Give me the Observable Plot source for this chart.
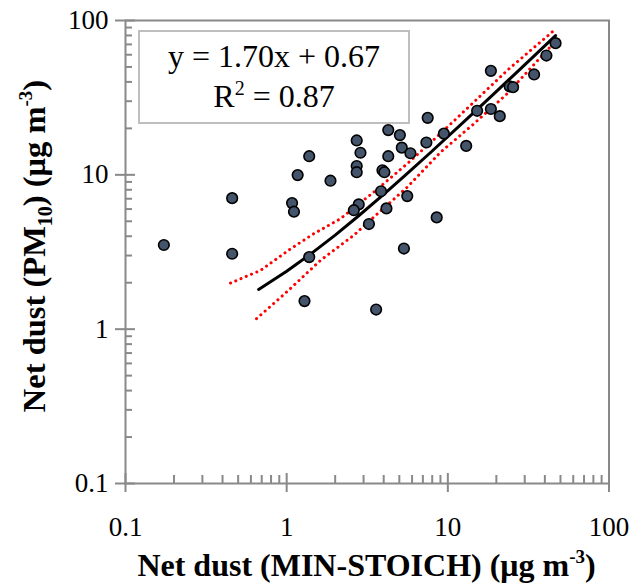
<!DOCTYPE html>
<html>
<head>
<meta charset="utf-8">
<script src="https://cdn.jsdelivr.net/npm/d3@7"></script>
<script src="https://cdn.jsdelivr.net/npm/@observablehq/plot@0.6"></script>
<style>
  html, body { margin: 0; padding: 0; background: #fff; }
  #chart { width: 640px; height: 583px; }
  #chart svg text { font-family: "Liberation Serif", "Times New Roman", serif; }
</style>
</head>
<body>
<div id="chart"></div>
<script>
// Scatter data: Net dust (MIN-STOICH) vs Net dust (PM10), µg m-3
const stoich = [0.173, 0.459, 0.459, 1.38, 1.17, 1.87, 1.08, 1.11, 1.38, 1.29,
  46.6, 40.9, 34.3, 18.5, 24.2, 25.4, 15.2, 18.5, 21.0, 13.0,
  9.45, 7.5, 7.36, 4.27, 5.04, 5.18, 5.86, 4.27, 2.72, 2.87,
  2.72, 2.72, 3.93, 4.04, 3.85, 2.80, 2.61, 4.16, 5.6, 3.24,
  8.53, 5.34, 3.59];
const pm10 = [3.51, 7.06, 3.08, 13.2, 9.96, 9.16, 6.56, 5.77, 2.93, 1.52,
  71.3, 59.3, 44.7, 47.2, 37.4, 37.0, 26.0, 26.7, 24.0, 15.4,
  18.5, 23.4, 16.2, 19.5, 18.1, 15.0, 13.8, 13.2, 16.7, 13.9,
  11.4, 10.4, 10.7, 10.4, 7.83, 6.43, 5.9, 6.06, 7.28, 4.8,
  5.3, 3.33, 1.34];

// Fit line (y = 1.70x + 0.67)
const fitX = [0.67, 1.0, 1.38, 2.0, 2.8, 4.0, 5.5, 8, 13, 19, 25, 35, 46.6];
const fitY = [1.81, 2.37, 3.02, 4.07, 5.43, 7.47, 10.02, 14.27, 22.77, 32.97, 43.17, 60.17, 79.89];

// Confidence band (red dotted)
const upperX = [0.448, 0.687, 1.06, 1.47, 2.16, 3.47, 5.6, 9.0, 14.5, 23.3, 44.8];
const upperY = [1.99, 2.40, 3.32, 4.15, 5.2, 7.73, 11.8, 18.5, 29.6, 47.4, 84.9];
const lowerX = [0.65, 1.0, 1.62, 2.61, 3.47, 5.6, 9.0, 14.5, 23.3, 39.4, 43];
const lowerY = [1.17, 1.74, 2.79, 4.06, 5.32, 8.32, 14.0, 21.4, 33.5, 60.8, 67];

// Ticks
const majorTicks = [0.1, 1, 10, 100];
const majorLabels = ["0.1", "1", "10", "100"];
const minorTicks = [0.2, 0.3, 0.4, 0.5, 0.6, 0.7, 0.8, 0.9, 2, 3, 4, 5, 6, 7, 8, 9, 20, 30, 40, 50, 60, 70, 80, 90];

const xTitle = "Net dust (MIN-STOICH) (μg m";
const yTitleA = "Net dust (PM";
const yTitleSub = "10";
const yTitleB = ") (μg m";
const eqLine1 = "y = 1.70x + 0.67";
const eqLine2 = "R";
const eqLine2b = " = 0.87";

const points = stoich.map((x, i) => ({x, y: pm10[i]}));
const fit = fitX.map((x, i) => ({x, y: fitY[i]}));
const upper = upperX.map((x, i) => ({x, y: upperY[i]}));
const lower = lowerX.map((x, i) => ({x, y: lowerY[i]}));
const fmt = d => majorLabels[majorTicks.indexOf(d)];

const serif = "Liberation Serif";
const gray = "#898989";
const plot = Plot.plot({
  width: 640,
  height: 583,
  marginLeft: 125,
  marginRight: 31.5,
  marginTop: 20,
  marginBottom: 100,
  style: {fontFamily: serif, fontSize: "27px", background: "white", color: "black"},
  x: {type: "log", domain: [0.1, 100]},
  y: {type: "log", domain: [0.1, 100]},
  marks: [
    Plot.frame({stroke: gray, strokeWidth: 2}),
    // tick marks
    Plot.axisX(majorTicks, {tickSize: 9, stroke: gray, strokeWidth: 2, text: null, label: null}),
    Plot.axisX(majorTicks, {tickSize: -10, stroke: gray, strokeWidth: 2, text: null, label: null}),
    Plot.axisX(minorTicks, {tickSize: -8, stroke: gray, strokeWidth: 2, text: null, label: null}),
    Plot.axisY(majorTicks, {tickSize: 10, stroke: gray, strokeWidth: 2, text: null, label: null}),
    Plot.axisY(majorTicks, {tickSize: -10, stroke: gray, strokeWidth: 2, text: null, label: null}),
    Plot.axisY(minorTicks, {tickSize: -7, stroke: gray, strokeWidth: 2, text: null, label: null}),
    // tick labels
    Plot.axisX(majorTicks, {tickSize: 0, tickPadding: 33, tickFormat: fmt, fontSize: 27, fontFamily: serif, fill: "black", label: null}),
    Plot.axisY(majorTicks, {tickSize: 0, tickPadding: 17, tickFormat: fmt, fontSize: 27, fontFamily: serif, fill: "black", label: null}),
    // band & fit
    Plot.line(upper, {x: "x", y: "y", stroke: "#ff0000", strokeWidth: 3, strokeDasharray: "0.1 5.6", strokeLinecap: "round"}),
    Plot.line(lower, {x: "x", y: "y", stroke: "#ff0000", strokeWidth: 3, strokeDasharray: "0.1 5.6", strokeLinecap: "round"}),
    Plot.line(fit, {x: "x", y: "y", stroke: "black", strokeWidth: 3}),
    Plot.dot(points, {x: "x", y: "y", r: 5.3, fill: "#44546a", stroke: "black", strokeWidth: 1.6})
  ]
});
document.getElementById("chart").appendChild(plot);

const svg = d3.select(plot);

// Equation box
const g = svg.append("g").attr("font-family", serif).attr("fill", "black");
g.append("rect").attr("x", 139).attr("y", 31).attr("width", 270).attr("height", 92)
  .attr("fill", "white").attr("stroke", "#bfbfbf").attr("stroke-width", 2);
g.append("text").attr("x", 274).attr("y", 66.5).attr("text-anchor", "middle").attr("font-size", 32).text(eqLine1);
const t2 = g.append("text").attr("x", 274).attr("y", 106.5).attr("text-anchor", "middle").attr("font-size", 32);
t2.append("tspan").text(eqLine2);
t2.append("tspan").attr("font-size", 20).attr("dy", -12).text("2");
t2.append("tspan").attr("dy", 12).text(eqLine2b);

// X title
const xt = svg.append("text").attr("x", 366.5).attr("y", 576).attr("text-anchor", "middle")
  .attr("font-family", serif).attr("font-weight", "bold").attr("font-size", 32).attr("fill", "black");
xt.append("tspan").text(xTitle);
xt.append("tspan").attr("font-size", 19).attr("dy", -13).text("-3");
xt.append("tspan").attr("dy", 13).text(")");

// Y title
const yt = svg.append("text").attr("transform", "translate(45,246) rotate(-90)").attr("text-anchor", "middle")
  .attr("font-family", serif).attr("font-weight", "bold").attr("font-size", 32.5).attr("fill", "black");
yt.append("tspan").text(yTitleA);
yt.append("tspan").attr("font-size", 20).attr("dy", 7).text(yTitleSub);
yt.append("tspan").attr("dy", -7).text(yTitleB);
yt.append("tspan").attr("font-size", 19).attr("dy", -13).text("-3");
yt.append("tspan").attr("dy", 13).text(")");
</script>
</body>
</html>
